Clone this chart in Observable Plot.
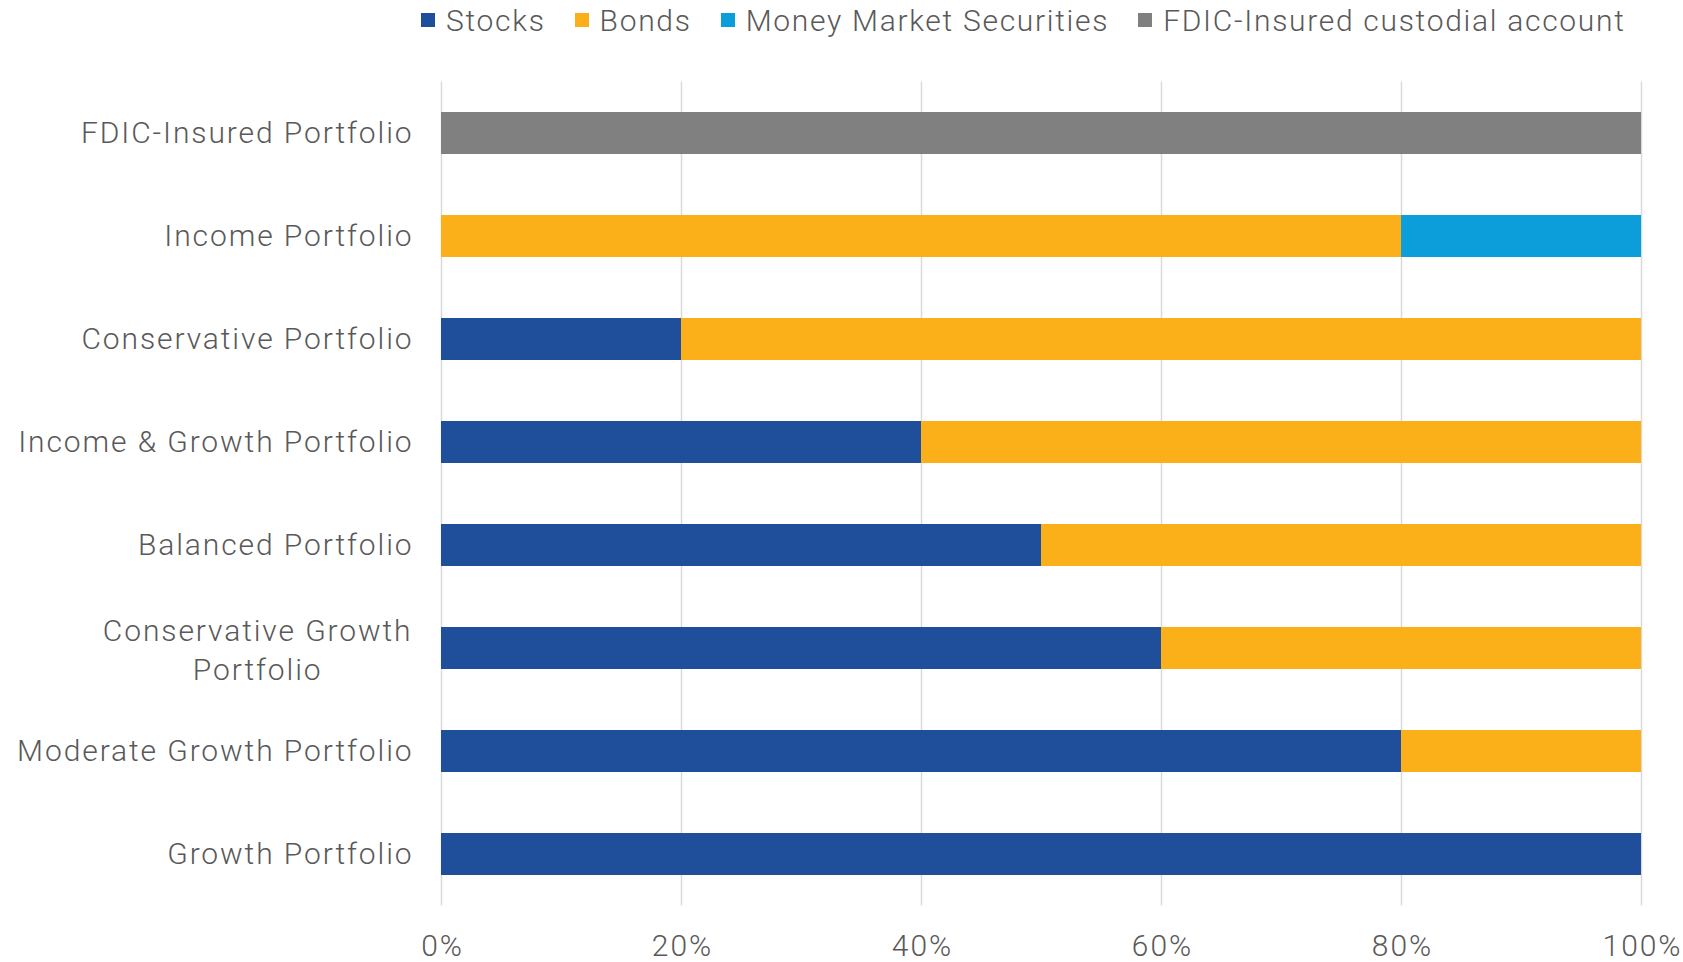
<!DOCTYPE html>
<html>
<head>
<meta charset="utf-8">
<script src="https://cdn.jsdelivr.net/npm/d3@7"></script>
<script src="https://cdn.jsdelivr.net/npm/@observablehq/plot@0.6"></script>
<style>
  html, body { margin: 0; padding: 0; background: #fff; }
  body { width: 1683px; height: 962px; overflow: hidden; font-family: Roboto, "Open Sans", sans-serif; font-weight: 300; color: #595959; }
  #legend { height: 40px; display: flex; align-items: center; padding-left: 421px; font-size: 30px; letter-spacing: 1.7px; }
  .item { display: flex; align-items: center; margin-right: 29px; }
  .sw { width: 14px; height: 14px; margin-right: 11px; }
  svg text { font-family: Roboto, sans-serif; font-weight: 300; letter-spacing: 1.9px; }
</style>
</head>
<body>
<div id="legend"></div>
<div id="chart"></div>
<script>
// Categories (top to bottom)
const portfolios = [
  "FDIC-Insured Portfolio",
  "Income Portfolio",
  "Conservative Portfolio",
  "Income & Growth Portfolio",
  "Balanced Portfolio",
  "Conservative Growth Portfolio",
  "Moderate Growth Portfolio",
  "Growth Portfolio"
];
const seriesNames = ["Stocks", "Bonds", "Money Market Securities", "FDIC-Insured custodial account"];
const seriesColors = ["#1F4E9A", "#FBB01A", "#0C9DDB", "#808080"];
// values in percent, one array per series, aligned with portfolios
const stocks = [0, 0, 20, 40, 50, 60, 80, 100];
const bonds  = [0, 80, 80, 60, 50, 40, 20, 0];
const money  = [0, 20, 0, 0, 0, 0, 0, 0];
const fdic   = [100, 0, 0, 0, 0, 0, 0, 0];
const xTicks = [0, 20, 40, 60, 80, 100];

const seriesValues = [stocks, bonds, money, fdic];
const data = [];
portfolios.forEach((p, i) => {
  seriesNames.forEach((s, j) => {
    if (seriesValues[j][i] > 0) data.push({portfolio: p, series: s, value: seriesValues[j][i]});
  });
});

// legend
const legend = document.getElementById("legend");
seriesNames.forEach((s, j) => {
  const it = document.createElement("div"); it.className = "item";
  const sw = document.createElement("div"); sw.className = "sw"; sw.style.background = seriesColors[j];
  const tx = document.createElement("span"); tx.textContent = s;
  it.appendChild(sw); it.appendChild(tx); legend.appendChild(it);
});

const ls = 1.9;
const wrapped = "Conservative Growth Portfolio";
const wrapLines = ["Conservative Growth", "Portfolio"];
const ctx = document.createElement("canvas").getContext("2d");
ctx.font = "300 30px Roboto";
const wrapW = ctx.measureText(wrapLines[0]).width + ls * (wrapLines[0].length - 1);

const fontSize = 30;
const chart = Plot.plot({
  width: 1683,
  height: 922,
  marginLeft: 441,
  marginRight: 42,
  marginTop: 41.5,
  marginBottom: 56.5,
  style: {fontSize: fontSize + "px", color: "#595959", fontFamily: "Roboto, sans-serif", fontWeight: 300},
  x: {domain: [0, 100], ticks: xTicks, label: null},
  y: {domain: portfolios, paddingInner: 0.59, paddingOuter: 0.295, label: null},
  color: {domain: seriesNames, range: seriesColors},
  marks: [
    Plot.gridX(xTicks, {stroke: "#d9d9d9", strokeOpacity: 1, strokeWidth: 1.5}),
    Plot.barX(data, Plot.stackX({y: "portfolio", x: "value", fill: "series", order: seriesNames})),
    Plot.axisX(xTicks, {tickSize: 0, tickPadding: 29, tickFormat: d => d + "%", fill: "#595959", label: null, dx: ls / 2}),
    Plot.axisY({tickSize: 0, tickPadding: 28, fill: "#595959", label: null,
      tickFormat: d => d === wrapped ? "" : d}),
    Plot.text([wrapped], {y: d => d, text: () => wrapLines.join("\n"), frameAnchor: "left",
      textAnchor: "middle", lineHeight: 1.3, dx: -(30 + wrapW / 2), fill: "#595959", fontSize: fontSize})
  ]
});
document.getElementById("chart").appendChild(chart);
</script>
</body>
</html>
